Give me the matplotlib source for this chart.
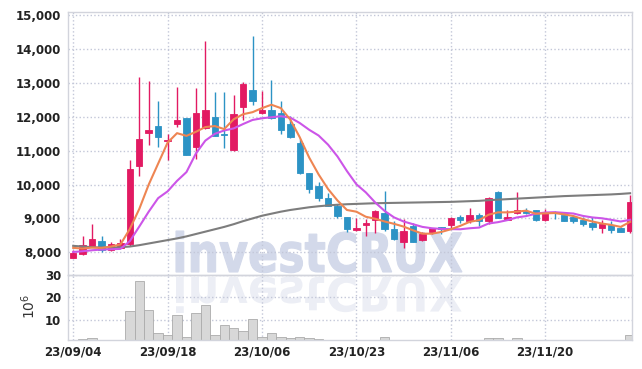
import matplotlib
matplotlib.use('Agg')
import matplotlib.pyplot as plt
from matplotlib.textpath import TextPath
from matplotlib.patches import PathPatch
from matplotlib.font_manager import FontProperties, fontManager
from matplotlib.transforms import Affine2D
from matplotlib.ticker import FuncFormatter

# trading days shown on the chart
dates = ['23/09/04', '23/09/05', '23/09/06', '23/09/07', '23/09/08', '23/09/11', '23/09/12', '23/09/13',
         '23/09/14', '23/09/15', '23/09/18', '23/09/19', '23/09/20', '23/09/21', '23/09/22', '23/09/25',
         '23/09/26', '23/09/27', '23/10/04', '23/10/05', '23/10/06', '23/10/10', '23/10/11', '23/10/12',
         '23/10/13', '23/10/16', '23/10/17', '23/10/18', '23/10/19', '23/10/20', '23/10/23', '23/10/24',
         '23/10/25', '23/10/26', '23/10/27', '23/10/30', '23/10/31', '23/11/01', '23/11/02', '23/11/03',
         '23/11/06', '23/11/07', '23/11/08', '23/11/09', '23/11/10', '23/11/13', '23/11/14', '23/11/15',
         '23/11/16', '23/11/17', '23/11/20', '23/11/21', '23/11/22', '23/11/23', '23/11/24', '23/11/27',
         '23/11/28', '23/11/29', '23/11/30', '23/12/01']
tick_dates = ['23/09/04', '23/09/18', '23/10/06', '23/10/23', '23/11/06', '23/11/20']

opens = [7840, 7940, 8190, 8340, 8060, 8140, 8240, 10560, 11510, 11740,
         11280, 11790, 11960, 11100, 11660, 12010, 11490, 11020, 12280, 12800,
         12110, 12210, 12120, 11790, 11230, 10330, 9960, 9590, 9370, 9030,
         8650, 8800, 8950, 9170, 8680, 8290, 8780, 8360, 8610, 8750,
         8800, 9030, 8910, 9110, 8910, 9770, 8950, 9150, 9220, 9250,
         8950, 9180, 9100, 9030, 8960, 8880, 8710, 8810, 8730, 8630]
highs = [8060, 8480, 8830, 8480, 8300, 8390, 10720, 13170, 13070, 12480,
         11500, 12880, 11960, 12860, 14240, 12750, 12750, 12650, 13020, 14380,
         12780, 13090, 12480, 12040, 11350, 10330, 10090, 9750, 9440, 9030,
         9000, 8980, 9250, 9800, 8910, 8980, 8880, 8610, 8730, 8750,
         9030, 9110, 9300, 9170, 9620, 9820, 9240, 9790, 9300, 9250,
         9270, 9220, 9180, 9090, 9050, 9030, 8950, 8910, 8760, 9700]
lows = [7830, 7930, 8160, 8020, 8040, 8120, 8190, 10260, 11170, 11120,
        10730, 11690, 10870, 10750, 11640, 11440, 11080, 11000, 11910, 12350,
        12100, 11940, 11490, 11390, 10310, 9740, 9520, 9370, 9010, 8610,
        8630, 8480, 8580, 8630, 8360, 8140, 8290, 8340, 8550, 8550,
        8710, 8880, 8880, 8780, 8850, 9000, 8950, 9120, 9120, 8930,
        8930, 8970, 8910, 8880, 8780, 8660, 8580, 8580, 8600, 8580]
closes = [7990, 8210, 8390, 8060, 8240, 8270, 10460, 11360, 11620, 11400,
          11320, 11920, 10870, 12120, 12210, 11450, 11470, 12090, 12960, 12480,
          12210, 11960, 11620, 11400, 10330, 9870, 9590, 9370, 9080, 8680,
          8730, 8880, 9220, 8700, 8390, 8630, 8290, 8530, 8710, 8680,
          9000, 8950, 9110, 8910, 9600, 9000, 9030, 9250, 9170, 8950,
          9170, 9160, 8930, 8930, 8850, 8750, 8850, 8660, 8610, 9500]

# volume in millions of shares
volume = [0.3, 1.1, 1.6, 0.3, 0.3, 0.3, 13.8, 27.3, 14.2, 3.8,
          2.8, 12.1, 2.3, 12.9, 16.6, 2.8, 7.6, 6.2, 4.9, 10.3,
          2.3, 4.0, 2.0, 1.6, 2.2, 1.6, 1.1, 0.9, 0.9, 0.8,
          0.7, 0.7, 0.7, 2.2, 0.8, 0.8, 0.7, 0.6, 0.6, 0.5,
          0.5, 0.5, 0.5, 0.5, 1.6, 1.6, 0.5, 1.6, 0.5, 0.5,
          0.5, 0.5, 0.5, 0.5, 0.5, 0.5, 0.5, 0.5, 0.5, 3.1]

# moving average lines as drawn
ma_short = [8130, 8110, 8140, 8130, 8170, 8230, 8690, 9280, 10000, 10620,
            11240, 11520, 11440, 11560, 11700, 11730, 11640, 11930, 12080, 12140,
            12260, 12360, 12260, 11920, 11400, 10800, 10300, 9870, 9530, 9250,
            9200, 9050, 8990, 8910, 8840, 8760, 8650, 8550, 8550, 8600,
            8680, 8780, 8900, 8950, 9110, 9180, 9180, 9200, 9230, 9140,
            9150, 9160, 9120, 9070, 8980, 8910, 8850, 8810, 8750, 8900]
ma_mid = [8010, 8030, 8060, 8080, 8090, 8100, 8330, 8760, 9200, 9600,
          9800, 10110, 10370, 10920, 11300, 11500, 11600, 11660, 11790, 11910,
          11960, 11990, 12020, 11980, 11820, 11620, 11450, 11180, 10830, 10400,
          10010, 9770, 9470, 9220, 9030, 8910, 8830, 8750, 8710, 8690,
          8685, 8680, 8710, 8730, 8850, 8890, 8950, 9030, 9070, 9140,
          9175, 9185, 9165, 9145, 9075, 9030, 9005, 8960, 8910, 8960]
ma_long = [8190, 8170, 8150, 8140, 8140, 8150, 8170, 8210, 8260, 8310,
           8360, 8410, 8470, 8540, 8610, 8680, 8750, 8830, 8920, 9000,
           9080, 9140, 9200, 9250, 9290, 9330, 9360, 9385, 9405, 9420,
           9430, 9440, 9450, 9455, 9460, 9465, 9470, 9475, 9480, 9485,
           9490, 9500, 9510, 9520, 9540, 9555, 9570, 9585, 9600, 9615,
           9630, 9645, 9660, 9670, 9680, 9690, 9700, 9710, 9725, 9745]

names = {f.name for f in fontManager.ttflist}
narrow = 'Liberation Sans Narrow' in names
tick_family = 'Liberation Sans Narrow' if narrow else 'DejaVu Sans'
ysize = 10.5 if narrow else 8.5
xsize = 11 if narrow else 8.5
up_color = '#e21a62'
down_color = '#2c93c5'
grid_color = '#c3c7d8'
spine_color = '#d2d4dc'

W, H = 642, 369
fig = plt.figure(figsize=(W / 100, H / 100), dpi=100)
ax = fig.add_axes([68 / W, 1 - 275.3 / H, 564 / W, 263.3 / H])
axv = fig.add_axes([68 / W, 1 - 340.3 / H, 564 / W, 65 / H], sharex=ax)

# watermark with reflection, behind both panels
wm_font = FontProperties(family='DejaVu Sans', weight='bold')
tp = TextPath((0, 0), 'investCRUX', size=1, prop=wm_font)
ext = tp.get_extents()
sx = (462 - 176) / ext.width
sy = (272 - 231) / ext.ymax
wm = PathPatch(tp, transform=Affine2D().translate(-ext.xmin, 0).scale(sx, sy).translate(176, H - 272),
               facecolor='#d3d9ea', edgecolor='#d3d9ea', linewidth=0.8, zorder=-5)
fig.add_artist(wm)
wm2 = PathPatch(tp, transform=Affine2D().translate(-ext.xmin, 0).scale(sx, -(313 - 277) / ext.ymax).translate(176, H - 277),
                facecolor='#eceef5', edgecolor='none', zorder=-5)
fig.add_artist(wm2)

for a in (ax, axv):
    a.set_facecolor('none')
    for s in a.spines.values():
        s.set_color(spine_color)
        s.set_linewidth(1)
    a.grid(True, linestyle=':', color=grid_color, linewidth=1)
    a.set_axisbelow(True)
    a.tick_params(length=0, labelcolor='#222222')

x = list(range(len(dates)))
colors = [up_color if c >= o else down_color for o, c in zip(opens, closes)]
bottoms = [min(o, c) for o, c in zip(opens, closes)]
heights = [max(abs(c - o), 30) for o, c in zip(opens, closes)]

ax.vlines(x, lows, highs, colors=colors, linewidth=1, zorder=3)
ax.bar(x, heights, bottom=bottoms, width=0.68, color=colors, edgecolor=colors, linewidth=0.6, zorder=4)
ax.plot(x, ma_long, color='#7d7d7d', linewidth=1.5, zorder=5)
ax.plot(x, ma_mid, color='#cc55e8', linewidth=1.5, zorder=5)
ax.plot(x, ma_short, color='#ee8552', linewidth=1.5, zorder=5)

ax.set_ylim(7320, 15100)
ax.set_yticks(range(8000, 15001, 1000))
ax.yaxis.set_major_formatter(FuncFormatter(lambda v, p: f'{int(v):,}'))
ax.set_xlim(-0.55, 59.2)
ax.tick_params(axis='x', labelbottom=False)
ax.tick_params(axis='y', pad=5, labelsize=ysize)
for lbl in ax.get_yticklabels():
    lbl.set_fontweight('bold')
    lbl.set_family(tick_family)

axv.bar(x, volume, width=1.0, color='#d8d8d8', edgecolor='#ababab', linewidth=0.6, zorder=2)
axv.set_ylim(0.6, 30)
axv.set_yticks([10, 20, 30])
axv.set_xticks([dates.index(d) for d in tick_dates])
axv.set_xticklabels(tick_dates)
axv.tick_params(axis='y', pad=5, labelsize=ysize)
axv.tick_params(axis='x', pad=4, labelsize=xsize)
for lbl in axv.get_yticklabels() + axv.get_xticklabels():
    lbl.set_fontweight('bold')
    lbl.set_family(tick_family)
axv.set_ylabel(r'$10^6$', fontsize=10, color='#333333')
axv.yaxis.set_label_coords(-0.053, 0.52)

fig.savefig('out.png', dpi=100)
